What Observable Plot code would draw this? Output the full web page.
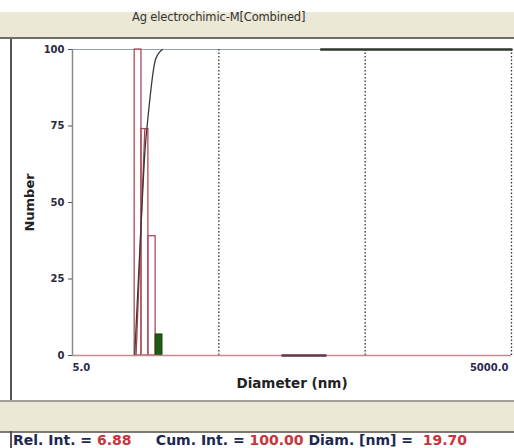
<!DOCTYPE html>
<html><head><meta charset="utf-8">
<script src="https://cdn.jsdelivr.net/npm/d3@7"></script>
<script src="https://cdn.jsdelivr.net/npm/@observablehq/plot@0.6"></script>
<style>
body{margin:0;background:#fff}
#wrap{position:relative;width:514px;height:448px;overflow:hidden;background:#fff;font-family:"DejaVu Sans",sans-serif}
.band{position:absolute;left:0;width:514px;background:#ebe8d5}
#chart{position:absolute;left:0;top:0}
#title{position:absolute;top:10px;left:132px;font-size:11.5px;color:#333;white-space:pre;letter-spacing:-0.15px}
#status{position:absolute;top:432px;left:13px;font-size:14px;line-height:16px;font-weight:bold;white-space:pre;color:#1e2850}
#status .v{color:#c8343c}
</style></head><body>
<div id="wrap">
  <div class="band" style="top:12px;height:25px;border-bottom:2px solid #6e6d66"></div>
  <div id="title">Ag electrochimic-M[Combined]</div>
  <div style="position:absolute;top:39px;left:10px;width:2px;height:361px;background:#555"></div>
  <div class="band" style="top:400px;height:29px;border-top:2px solid #a09f95;border-bottom:2px solid #7a7a72"></div>
  <div style="position:absolute;top:431px;left:10px;width:2px;height:17px;background:#555"></div>
  <div id="status"></div>
  <div id="chart"></div>
</div>
<script>
// Bins (diameter in nm, log scale) and relative intensity (number)
const binLo = [13.3, 14.8, 16.5, 18.5];
const binHi = [14.8, 16.5, 18.5, 20.6];
const relInt = [100, 74, 39, 6.88];
const selectedDiam = 19.70;
const selectedRel = 6.88;
const selectedCum = 100.00;

// Cumulative curve
const cumD = [13.3, 14.8, 15.6, 16.5, 18.5, 20.6];
const cumV = [0, 45.5, 66, 79.1, 96.9, 100];
// Extended cumulative plateau (dark segment at top right)
const plateauD = [250, 5000];
const plateauV = [100, 100];
// Small dark segment at baseline
const baseD = [136, 268];
const baseV = [0, 0];
// Red distribution line
const freqD = [13.6, 15.6];
const freqV = [0, 74];

const yTicks = [0, 25, 50, 75, 100];
const decadeLines = [50, 500, 5000];
const xMinLabel = "5.0";
const xMaxLabel = "5000.0";
const xDomain = [5, 5000];

const bars = binLo.map((lo, i) => ({lo, hi: binHi[i], v: relInt[i], sel: selectedDiam >= lo && selectedDiam < binHi[i]}));
const cum = cumD.map((d, i) => ({d, v: cumV[i]}));
const plateau = plateauD.map((d, i) => ({d, v: plateauV[i]}));
const base = baseD.map((d, i) => ({d, v: baseV[i]}));
const freq = freqD.map((d, i) => ({d, v: freqV[i]}));

const chart = Plot.plot({
  width: 514, height: 448,
  marginLeft: 72, marginRight: 3, marginTop: 49, marginBottom: 93,
  style: {background: "transparent", fontFamily: "DejaVu Sans, sans-serif", fontWeight: "bold", color: "#2a2a40"},
  x: {type: "log", domain: xDomain, axis: null},
  y: {domain: [0, 100], axis: null},
  marks: [
    Plot.ruleY([100], {stroke: "#8fa4a8", strokeWidth: 1.2}),
    Plot.ruleX(decadeLines, {stroke: "#333", strokeWidth: 1.3, strokeDasharray: "1.5,2"}),
    Plot.rect(bars.filter(b => !b.sel), {x1: "lo", x2: "hi", y1: 0, y2: "v", fill: "none", stroke: "#b24a5a", strokeWidth: 1.3}),
    Plot.rect(bars.filter(b => b.sel), {x1: "lo", x2: "hi", y1: 0, y2: "v", fill: "#1f5c12", stroke: "#173f0d", strokeWidth: 1}),
    Plot.line(freq, {x: "d", y: "v", stroke: "#a8404e", strokeWidth: 1.3}),
    Plot.line(cum, {x: "d", y: "v", stroke: "#3a3a3a", strokeWidth: 1.3, curve: "monotone-x"}),
    Plot.line(plateau, {x: "d", y: "v", stroke: "#2e3a2a", strokeWidth: 2.5}),
    Plot.ruleY([0], {stroke: "#c08a90", strokeWidth: 1.5}),
    Plot.line(base, {x: "d", y: "v", stroke: "#5a3a48", strokeWidth: 2.5}),
    Plot.ruleX([5], {stroke: "#8a8a8a", strokeWidth: 1.5}),
    Plot.axisY({ticks: yTicks, tickSize: 4, tickPadding: 4, fontSize: 10, label: null, stroke: "#555"}),
    Plot.text([xMinLabel], {x: xDomain[0], y: 0, dy: 12, text: d => d, textAnchor: "start", fontSize: 10, fill: "#2a2a50"}),
    Plot.text([xMaxLabel], {x: xDomain[1], y: 0, dy: 12, text: d => d, textAnchor: "end", dx: -3, fontSize: 10, fill: "#2a2a50"}),
    Plot.text(["Diameter (nm)"], {frameAnchor: "bottom", dy: 32, fontSize: 13.5, fill: "#222"}),
    Plot.text(["Number"], {x: xDomain[0], y: 50, dx: -43, rotate: -90, fontSize: 13, fill: "#222"})
  ]
});
document.getElementById("chart").appendChild(chart);

const st = document.getElementById("status");
st.innerHTML = `Rel. Int. = <span class="v">${selectedRel.toFixed(2)}</span>     Cum. Int. = <span class="v">${selectedCum.toFixed(2)}</span> Diam. [nm] =  <span class="v">${selectedDiam.toFixed(2)}</span>`;
</script>
</body></html>
